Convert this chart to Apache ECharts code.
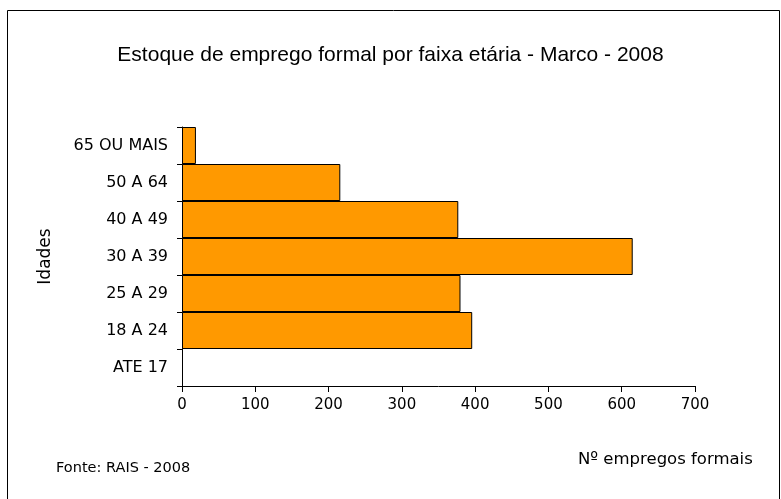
<!DOCTYPE html>
<html>
<head>
<meta charset="utf-8">
<script src="https://cdn.jsdelivr.net/npm/echarts@6/dist/echarts.min.js"></script>
<style>
  html, body { margin: 0; padding: 0; background: #fff; }
  #chart { width: 781px; height: 499px; }
</style>
</head>
<body>
<div id="chart"></div>
<script>
// faixas etárias, de baixo para cima
var faixas = ['ATE 17', '18 A 24', '25 A 29', '30 A 39', '40 A 49', '50 A 64', '65 OU MAIS'];
var empregos = [0, 396, 380, 615, 377, 216, 19];
var xTicks = [0, 100, 200, 300, 400, 500, 600, 700];

var chart = echarts.init(document.getElementById('chart'));

// barra zerada sem contorno
var barData = empregos.map(function (v) {
  return v === 0 ? { value: v, itemStyle: { borderWidth: 0 } } : v;
});

var option = {
  backgroundColor: '#fff',
  animation: false,
  title: {
    text: 'Estoque de emprego formal por faixa etária - Marco - 2008',
    left: 'center',
    top: 40,
    textStyle: { fontFamily: 'Liberation Sans', fontSize: 21, fontWeight: 'normal', color: '#000' }
  },
  grid: { left: 182, top: 127, width: 513, height: 259, containLabel: false },
  xAxis: {
    type: 'value',
    min: xTicks[0],
    max: xTicks[xTicks.length - 1],
    interval: 100,
    axisLine: { show: true, lineStyle: { color: '#000', width: 1 } },
    axisTick: { show: true, length: 6, lineStyle: { color: '#000' } },
    axisLabel: { color: '#000', fontFamily: 'DejaVu Sans', fontSize: 15, margin: 12 },
    splitLine: { show: false }
  },
  yAxis: {
    type: 'category',
    data: faixas,
    name: 'Idades',
    nameLocation: 'middle',
    nameGap: 128,
    nameRotate: 90,
    nameTextStyle: { color: '#000', fontFamily: 'DejaVu Sans', fontSize: 17 },
    axisLine: { show: true, lineStyle: { color: '#000', width: 1 } },
    axisTick: { show: true, length: 5, lineStyle: { color: '#000' } },
    axisLabel: { color: '#000', fontFamily: 'DejaVu Sans', fontSize: 16, margin: 14, letterSpacing: -1 }
  },
  series: [{
    type: 'bar',
    data: barData,
    barCategoryGap: 0,
    itemStyle: { color: '#FF9900', borderColor: '#000', borderWidth: 1 }
  }],
  graphic: [
    { type: 'rect', shape: { x: 7.5, y: 10.5, width: 772, height: 490 }, style: { fill: 'none', stroke: '#000', lineWidth: 1 }, silent: true },
    { type: 'text', left: 578, top: 451, style: { text: 'Nº empregos formais', fill: '#000', font: '16.5px "DejaVu Sans"' } },
    { type: 'text', left: 56, top: 461, style: { text: 'Fonte: RAIS - 2008', fill: '#000', font: '14.5px "DejaVu Sans"' } }
  ]
};

chart.setOption(option);
</script>
</body>
</html>
